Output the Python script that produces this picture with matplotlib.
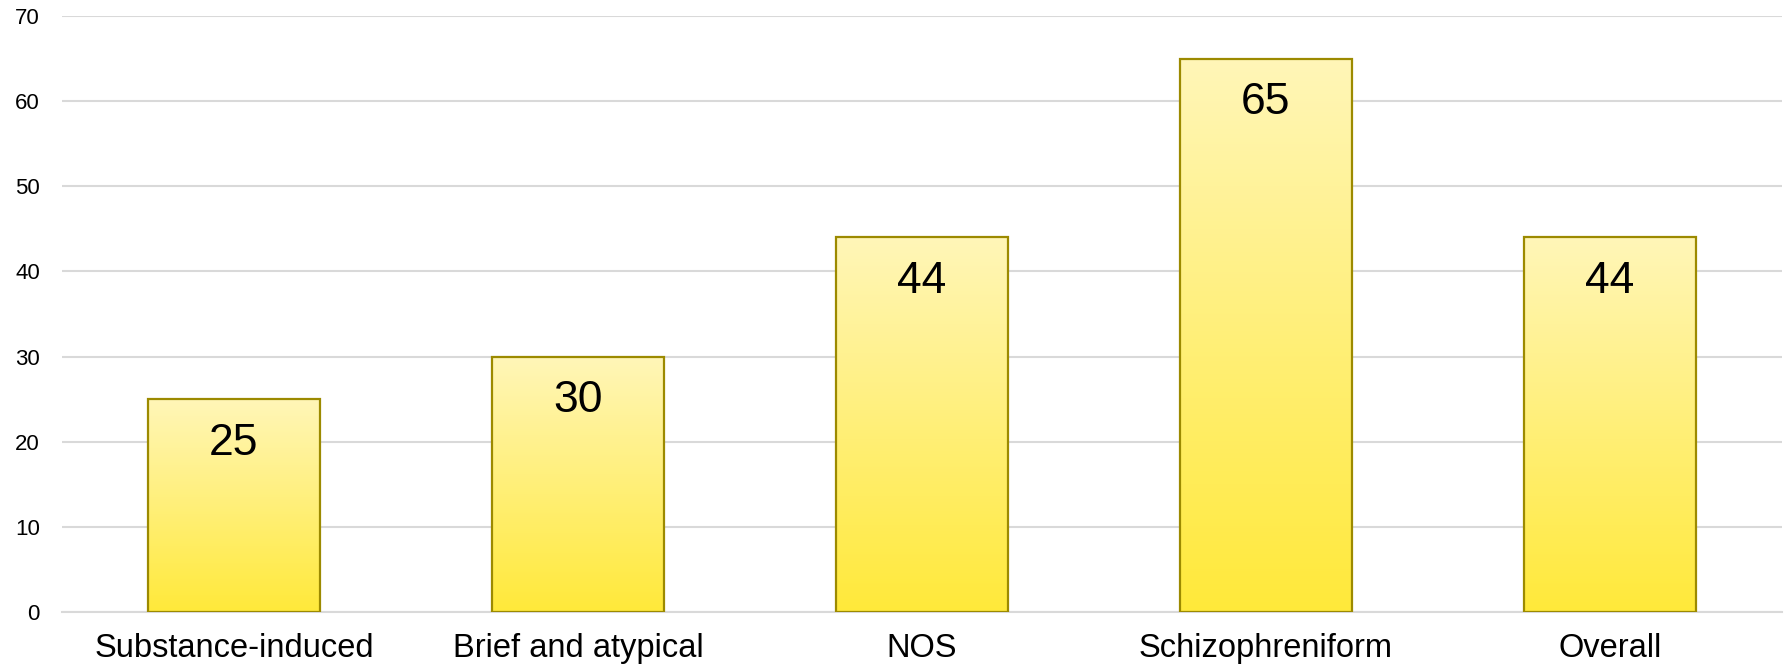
import numpy as np
import matplotlib
matplotlib.use("Agg")
import matplotlib.pyplot as plt
from matplotlib.colors import LinearSegmentedColormap

plt.rcParams['font.family'] = ['Liberation Sans', 'DejaVu Sans']

categories = ["Substance-induced", "Brief and atypical", "NOS", "Schizophreniform", "Overall"]
values = [25, 30, 44, 65, 44]
yticks = [0, 10, 20, 30, 40, 50, 60, 70]

fig = plt.figure(figsize=(17.87, 6.69), dpi=100)
ax = fig.add_axes([0.0347, 0.0852, 0.9623, 0.8908])

x = np.arange(len(categories))
bars = ax.bar(x, values, width=0.5, color='none', edgecolor='#9C8A00', linewidth=1.6, zorder=3)

# vertical gradient fill, pale at top, strong yellow at the bottom
cmap = LinearSegmentedColormap.from_list("yel", ["#FFE93A", "#FFF6B8"])
grad = np.linspace(0, 1, 256).reshape(-1, 1)
for b in bars:
    x0, y0 = b.get_x(), b.get_y()
    w, h = b.get_width(), b.get_height()
    im = ax.imshow(grad, cmap=cmap, origin='lower', aspect='auto',
                   extent=[x0, x0 + w, y0, y0 + h], zorder=2)
    im.set_clip_path(b)

for xi, v in zip(x, values):
    ax.annotate(str(v), (xi, v), xytext=(0, -17), textcoords='offset points',
                ha='center', va='top', fontsize=32, color='black', zorder=4)

ax.set_xlim(-0.5, len(categories) - 0.5)
ax.set_ylim(0, 70)
ax.set_yticks(yticks)
ax.set_xticks(x)
ax.set_xticklabels(categories, fontsize=23.5)
ax.tick_params(axis='y', length=0, pad=16, labelsize=16)
ax.tick_params(axis='x', length=0, pad=15)
ax.grid(axis='y', color='#D9D9D9', linewidth=1.5, zorder=0)
ax.set_axisbelow(True)
for s in ['top', 'right', 'left']:
    ax.spines[s].set_visible(False)
ax.spines['bottom'].set_color('#D9D9D9')
ax.spines['bottom'].set_linewidth(1.5)

fig.savefig('out.png', dpi=100)
